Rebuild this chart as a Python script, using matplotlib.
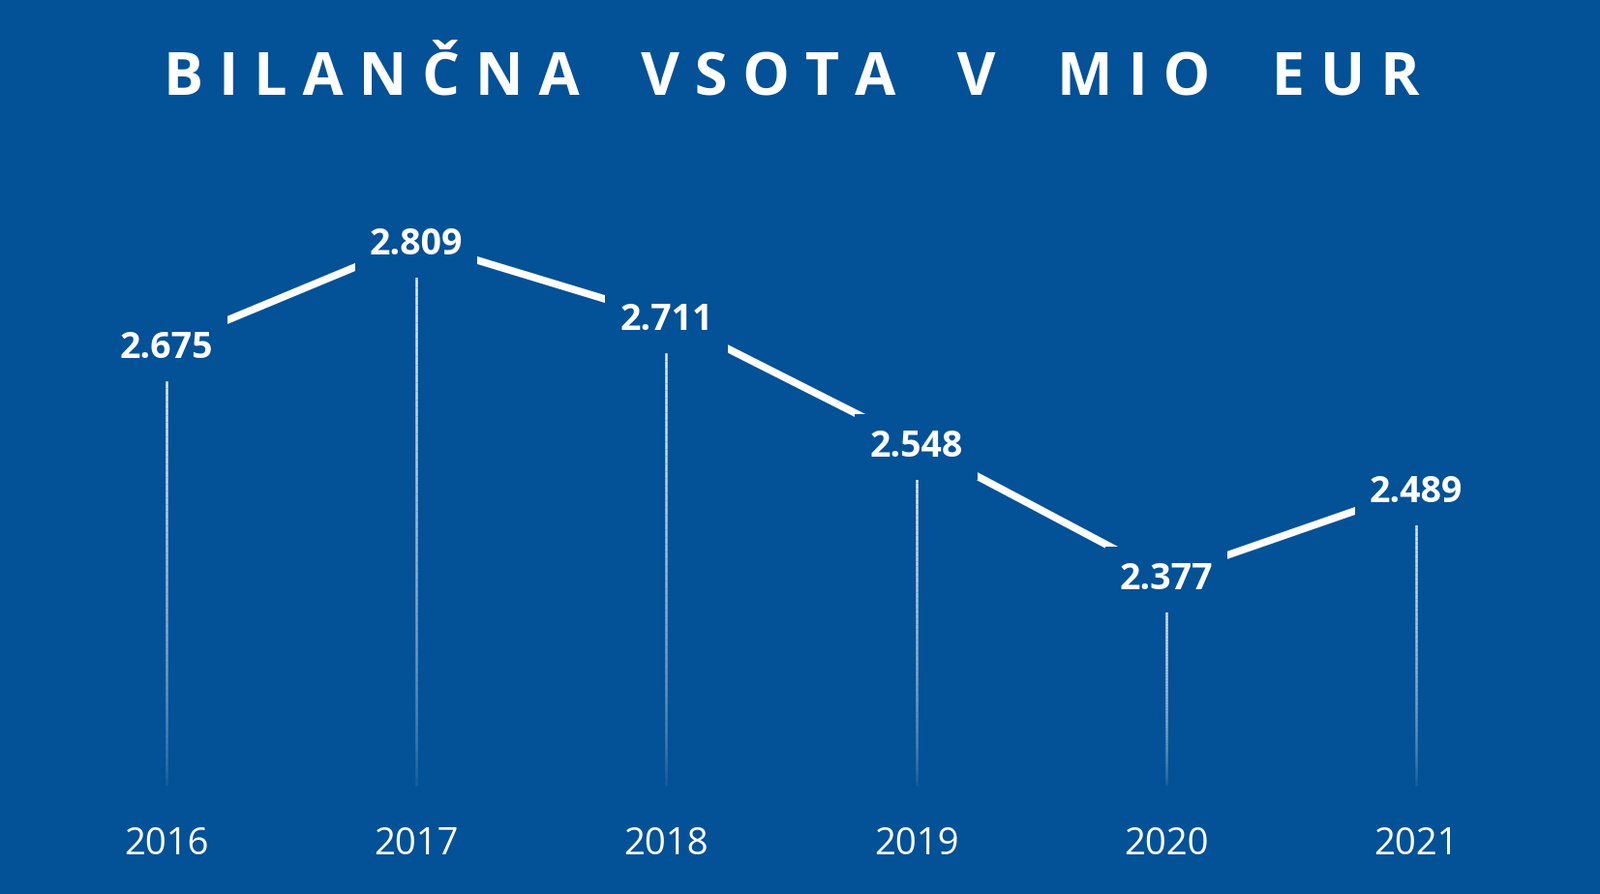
import numpy as np
import matplotlib
matplotlib.use("Agg")
import matplotlib.pyplot as plt

years = ["2016", "2017", "2018", "2019", "2020", "2021"]
values = [2.675, 2.809, 2.711, 2.548, 2.377, 2.489]
labels = ["2.675", "2.809", "2.711", "2.548", "2.377", "2.489"]
title = "BILANČNA VSOTA V MIO EUR"

BG = "#035196"
FONT = "Open Sans"

fig = plt.figure(figsize=(16.53, 9.24), dpi=100, facecolor=BG)
ax = fig.add_axes([0, 0, 1, 1])
ax.set_facecolor(BG)
ax.axis("off")
ax.set_xlim(-0.665, 5.735)
ax.set_ylim(1.967, 3.121)

x = np.arange(len(values))

# main line
ax.plot(x, values, color="white", lw=5.5, solid_capstyle="butt", zorder=2)

# fading vertical stems
bottom = 2.107
for xi, v in zip(x, values):
    top = v - 0.037
    n = 60
    ys = np.linspace(top, bottom, n + 1)
    for k in range(n):
        a = 0.9 * (1 - k / n) ** 0.6
        ax.plot([xi, xi], [ys[k], ys[k + 1]], color="white", lw=1.8,
                alpha=a, solid_capstyle="butt", zorder=1)

# value labels with background boxes to cut the line
for xi, v, lab in zip(x, values, labels):
    ax.text(xi, v - 0.004, lab, ha="center", va="center", color="white",
            fontsize=27, fontweight="bold", family=FONT, zorder=3,
            bbox=dict(boxstyle="square,pad=0.4", fc=BG, ec="none"))

for xi, yr in zip(x, years):
    ax.text(xi, 2.031, yr, ha="center", va="center", color="white",
            fontsize=27.5, family=FONT, zorder=3)

# title with extra letter spacing
ax.text(2.5, 3.018, " ".join(title).replace("   ", "    "), ha="center",
        va="center", color="white", fontsize=44, fontweight="bold",
        family=FONT)

fig.savefig("out.png", dpi=100, facecolor=BG)
